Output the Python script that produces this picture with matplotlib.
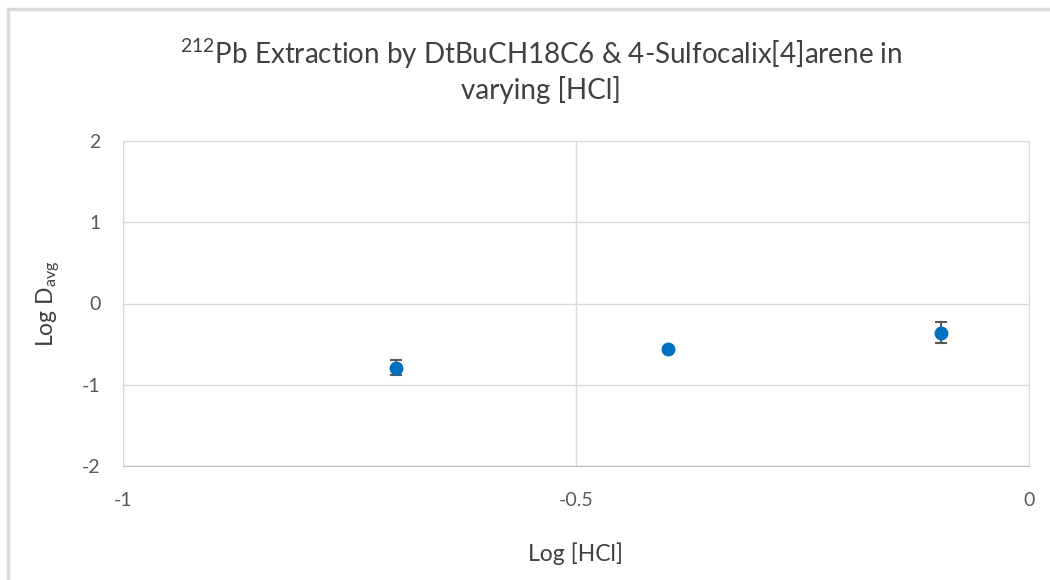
import matplotlib.pyplot as plt
from matplotlib.patches import Rectangle

plt.rcParams['font.family'] = ['Lato', 'DejaVu Sans']
plt.rcParams['mathtext.fontset'] = 'custom'
plt.rcParams['mathtext.rm'] = 'Lato'
plt.rcParams['axes.unicode_minus'] = False

# log of HCl molarity (0.2, 0.4, 0.8 M) and averaged log D values
log_hcl = [-0.699, -0.398, -0.097]
log_d = [-0.79, -0.56, -0.36]
log_d_err = [0.09, 0.02, 0.13]

x_ticks = [-1, -0.5, 0]
x_tick_labels = ['-1', '-0.5', '0']
y_ticks = [-2, -1, 0, 1, 2]

fig = plt.figure(figsize=(10.5, 5.8), dpi=100)
ax = fig.add_axes([123 / 1050, 1 - 466 / 580, 906 / 1050, 325 / 580])

ax.errorbar(log_hcl, log_d, yerr=log_d_err, fmt='o', color='#0070C0',
            markersize=9, ecolor='#595959', elinewidth=1.5, capsize=4.5,
            capthick=1.5, zorder=3)

ax.set_xlim(-1, 0)
ax.set_ylim(-2, 2)
ax.set_xticks(x_ticks)
ax.set_xticklabels(x_tick_labels)
ax.set_yticks(y_ticks)
ax.grid(True, color='#d9d9d9', linewidth=1)
ax.set_axisbelow(True)
for side in ['top', 'right', 'left']:
    ax.spines[side].set_color('#d9d9d9')
ax.spines['bottom'].set_color('#bfbfbf')
ax.tick_params(axis='both', length=0, labelsize=14, labelcolor='#595959')
ax.tick_params(axis='x', pad=19)
ax.tick_params(axis='y', pad=16)

ax.set_xlabel('Log [HCl]', fontsize=16.5, color='#404040', labelpad=24)
ax.set_ylabel(r'Log D$_{\mathregular{avg}}$', fontsize=16.5, color='#404040', labelpad=14)

fig.text(0.515, 0.908, r'$^{\mathregular{212}}$Pb Extraction by DtBuCH18C6 & 4-Sulfocalix[4]arene in',
         ha='center', va='center', fontsize=20, color='#404040')
fig.text(0.515, 0.845, 'varying [HCl]', ha='center', va='center', fontsize=20, color='#404040')

# chart area outline
fig.patches.append(Rectangle((7.5 / 1050, -0.1), 1.2, 1 - 9.5 / 580 + 0.1,
                             transform=fig.transFigure, fill=False,
                             edgecolor='#d9d9d9', linewidth=2.5))

fig.savefig('out.png', dpi=100)
